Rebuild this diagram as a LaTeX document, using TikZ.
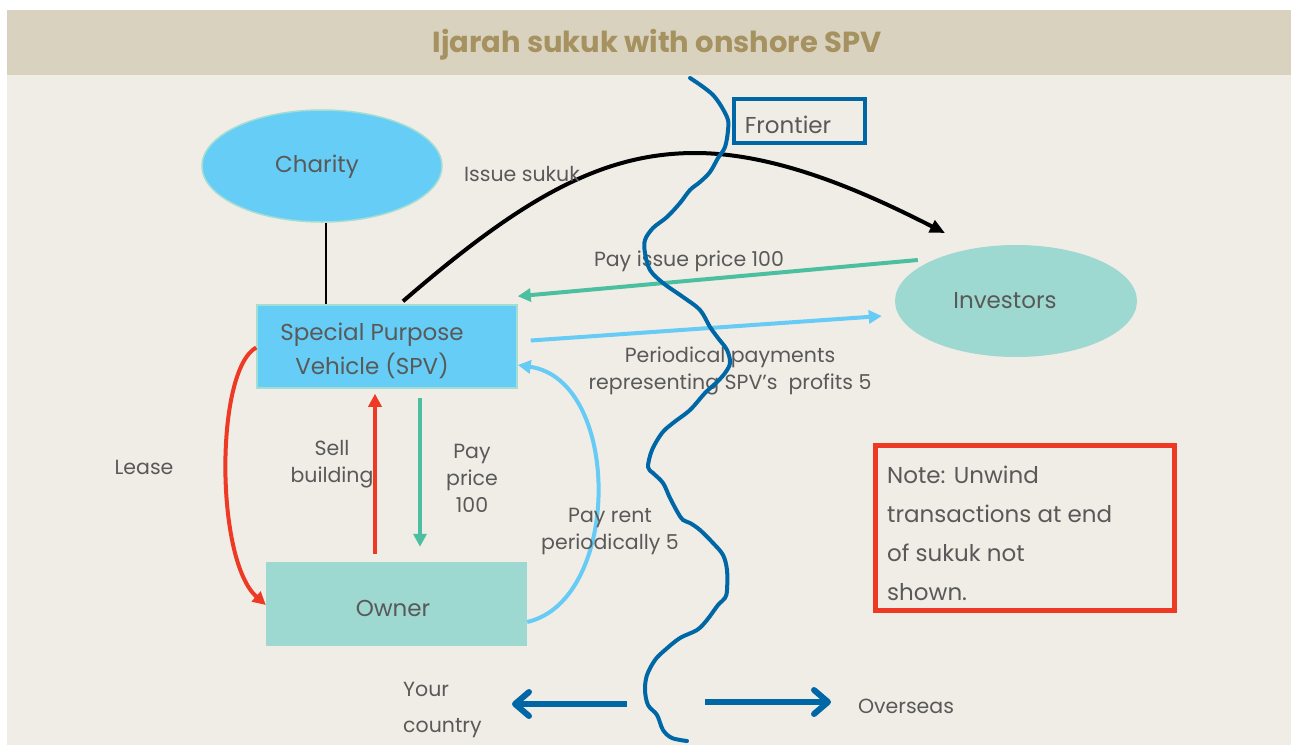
\documentclass[tikz,border=0pt]{standalone}
\usepackage{fontspec}
\setmainfont{Poppins}
\usetikzlibrary{arrows.meta,shapes.geometric,calc}

\definecolor{slidebg}{RGB}{240,237,230}
\definecolor{titlebg}{RGB}{217,210,190}
\definecolor{titletan}{RGB}{166,146,96}
\definecolor{textgray}{RGB}{89,89,89}
\definecolor{skyfill}{RGB}{102,205,246}
\definecolor{tealfill}{RGB}{157,216,209}
\definecolor{rimteal}{RGB}{163,221,212}
\definecolor{flowgreen}{RGB}{75,191,160}
\definecolor{flowsky}{RGB}{102,204,245}
\definecolor{flowred}{RGB}{238,58,36}
\definecolor{navy}{RGB}{0,103,166}

\newcommand{\fstitle}{\fontsize{29}{34}\selectfont}
\newcommand{\fsbig}{\fontsize{23}{34}\selectfont}
\newcommand{\fslabel}{\fontsize{20.5}{27}\selectfont}
\newcommand{\fsnote}{\fontsize{23}{39}\selectfont}

\begin{document}
\begin{tikzpicture}[x=1pt,y=-1pt,
  txt/.style={text=textgray, inner sep=0pt},
  bigtxt/.style={txt, font=\fsbig, align=center},
  lbl/.style={txt, font=\fslabel, align=center},
  tip/.style={-{Triangle[length=13pt,width=13pt]}},
  flow/.style={line width=4pt, tip},
  greenflow/.style={flow, draw=flowgreen},
  skyflow/.style={flow, draw=flowsky},
  redflow/.style={flow, draw=flowred},
  sideways/.style={draw=navy, line width=6pt,
    -{Straight Barb[length=14pt,width=24pt,line width=6pt,round]}},
  blob/.style={ellipse, minimum width=240pt, minimum height=112pt, inner sep=0pt},
  box/.style={rectangle, inner sep=0pt},
]
\useasboundingbox (0,0) rectangle (1291,745);
\fill[white] (0,0) rectangle (1291,745);
\fill[slidebg] (7,10) rectangle (1291,745);
\fill[titlebg] (7,10) rectangle (1291,75);
\node[inner sep=0pt, font=\fstitle\bfseries, text=titletan] (title) at (657,45) {Ijarah sukuk with onshore SPV};

% parties
\node[blob, fill=skyfill, draw=rimteal, line width=1.5pt] (charity) at (322,166) {};
\node[bigtxt] (charitytxt) at (317,167) {Charity};
\node[blob, fill=tealfill, minimum width=242pt] (investors) at (1016,301) {};
\node[bigtxt] (investorstxt) at (1005,301) {Investors};
\node[box, fill=skyfill, draw=rimteal, line width=1.5pt, minimum width=260pt, minimum height=83pt] (spv) at (387,346.5) {};
\node[bigtxt] (spvtxt) at (372,351) {Special Purpose\\Vehicle (SPV)};
\node[box, fill=tealfill, minimum width=261pt, minimum height=84pt] (owner) at (396.5,604) {};
\node[bigtxt] (ownertxt) at (393,608) {Owner};

% frontier tag and note
\node[box, draw=navy, line width=4pt, minimum width=131pt, minimum height=44pt] (frontier) at (799.5,121) {};
\node[bigtxt] (frontiertxt) at (788,125) {Frontier};
\node[box, draw=flowred, line width=5pt, minimum width=299pt, minimum height=165pt] (note) at (1025,528) {};
\node[txt, font=\fsnote, align=left, anchor=west] (notetxt) at (887,533)
  {Note: Unwind\\transactions at end\\of sukuk not\\shown.};

% connector end points
\coordinate (issuefrom) at ($(spv.north)+(16,-3)$);
\coordinate (issueto) at (945,233);
\coordinate (payfrom) at ($(investors.west)+(23,-41)$);
\coordinate (payto) at ($(spv.north east)+(0,-8)$);
\coordinate (perfrom) at ($(spv.east)+(13,-6)$);
\coordinate (perto) at ($(investors.west)+(-13,15)$);
\coordinate (homefrom) at (627,704);
\coordinate (hometip) at (512,704);
\coordinate (abroadfrom) at (705,702);
\coordinate (abroadtip) at (831,702);

% flows
\draw[line width=2pt] (charity.south -| 326,0) -- (spv.north -| 326,0);
\draw[line width=4pt, -{Triangle[length=15pt,width=13pt]}] (issuefrom)
  .. controls (520,200) and (600,153) .. (695,153)
  .. controls (780,153) and (870,195) .. (issueto);
\draw[greenflow] (payfrom) -- (payto);
\draw[skyflow] (perfrom) -- (perto);
\draw[redflow] ($(spv.west)+(0,1)$) .. controls (215,370) and (215,560) .. ($(owner.west)+(0,1)$);
\draw[redflow] ($(owner.north)+(-21.5,-8)$) -- ($(spv.south)+(-12,5)$);
\draw[greenflow] ($(spv.south)+(33,9)$) -- ($(owner.north)+(23.5,-15)$);
\draw[skyflow] ($(owner.east)+(0,18)$) .. controls (622,600) and (622,380) .. ($(spv.east)+(0,18.5)$);
\draw[sideways] (homefrom) -- (hometip);
\draw[sideways] (abroadfrom) -- (abroadtip);

% labels
\node[lbl] (issuelbl) at (522,174) {Issue sukuk};
\node[lbl] (paylbl) at (689,261) {Pay issue price 100};
\node[lbl] (perlbl) at (730,371) {Periodical payments\\representing SPV’s~ profits 5};
\node[lbl] (leaselbl) at (144,467) {Lease};
\node[lbl] (selllbl) at (332,464) {Sell\\building};
\node[lbl] (pricelbl) at (472,478) {Pay\\price\\100};
\node[lbl] (rentlbl) at (610,532) {Pay rent\\periodically 5};
\node[txt, font=\fontsize{20.5}{36}\selectfont, align=left, anchor=west] (homelbl) at (403,710) {Your\\country};
\node[lbl] (abroadlbl) at (906,706) {Overseas};

% the frontier itself
\draw[navy, line width=4pt, line cap=round, line join=round] plot[smooth, tension=0.55] coordinates {
  (690,78) (713,95) (727,117) (728,130) (725,147) (718,158) (710,172) (700,182)
  (690,190) (680,203) (667,217) (653,228) (645,240) (645,253) (650,270) (663,283)
  (683,297) (700,310) (710,327) (718,338) (727,350) (730,363) (725,373) (717,382)
  (705,393) (690,410) (673,423) (662,433) (652,450) (648,467) (653,473) (663,483)
  (670,498) (678,513) (683,520) (690,523) (700,530) (713,543) (723,555) (727,570)
  (727,590) (725,598) (718,605) (707,620) (697,630) (680,638) (665,650) (655,660)
  (647,675) (645,690) (648,705) (657,715) (663,730) (672,738) (687,741)};
\end{tikzpicture}
\end{document}
